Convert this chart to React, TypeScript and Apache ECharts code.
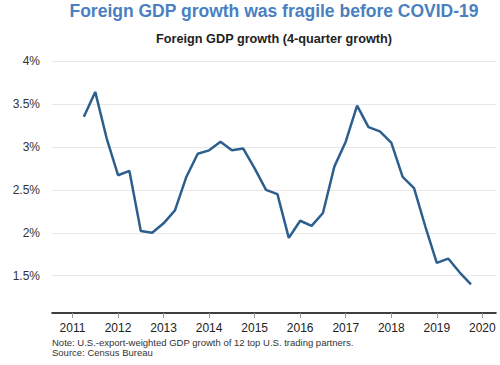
import React, { useEffect, useRef } from "react";
import * as echarts from "echarts";

const quarters = [
  "2011Q2", "2011Q3", "2011Q4",
  "2012Q1", "2012Q2", "2012Q3", "2012Q4",
  "2013Q1", "2013Q2", "2013Q3", "2013Q4",
  "2014Q1", "2014Q2", "2014Q3", "2014Q4",
  "2015Q1", "2015Q2", "2015Q3", "2015Q4",
  "2016Q1", "2016Q2", "2016Q3", "2016Q4",
  "2017Q1", "2017Q2", "2017Q3", "2017Q4",
  "2018Q1", "2018Q2", "2018Q3", "2018Q4",
  "2019Q1", "2019Q2", "2019Q3", "2019Q4",
];

const growth = [
  3.35, 3.64, 3.10,
  2.67, 2.72, 2.02, 2.00,
  2.11, 2.26, 2.65, 2.92,
  2.96, 3.06, 2.96, 2.98,
  2.75, 2.50, 2.45, 1.94,
  2.14, 2.08, 2.23, 2.77,
  3.06, 3.48, 3.23, 3.18,
  3.05, 2.65, 2.52, 2.07,
  1.65, 1.70, 1.54, 1.40,
];

const yTicks = [1.5, 2, 2.5, 3, 3.5, 4];
const xTicks = [2011, 2012, 2013, 2014, 2015, 2016, 2017, 2018, 2019, 2020];

const titleText = "Foreign GDP growth was fragile before COVID-19";
const subtitleText = "Foreign GDP growth (4-quarter growth)";
const noteText = "Note: U.S.-export-weighted GDP growth of 12 top U.S. trading partners.";
const sourceText = "Source: Census Bureau";

function quarterToX(q: string): number {
  const year = parseInt(q.slice(0, 4), 10);
  const qn = parseInt(q.slice(5), 10);
  return year + (qn - 1) / 4;
}

export default function App() {
  const ref = useRef<HTMLDivElement>(null);

  useEffect(() => {
    if (!ref.current) return;
    const chart = echarts.init(ref.current, null, { renderer: "svg" });
    const data = quarters.map((q, i) => [quarterToX(q), growth[i]]);
    const font = "Liberation Sans, Arial, sans-serif";
    chart.setOption({
      animation: false,
      textStyle: { fontFamily: font },
      title: [
        {
          text: titleText,
          left: 274,
          top: 2,
          padding: 0,
          textAlign: "center",
          textStyle: { color: "#4a7fc1", fontSize: 17.5, fontWeight: "bold", fontFamily: font },
        },
        {
          text: subtitleText,
          left: 274,
          top: 32,
          padding: 0,
          textAlign: "center",
          textStyle: { color: "#222", fontSize: 12.7, fontWeight: "bold", fontFamily: font },
        },
        {
          text: noteText + "\n" + sourceText,
          left: 52,
          top: 337,
          padding: 0,
          textStyle: { color: "#333", fontSize: 9.5, fontWeight: "normal", lineHeight: 10.5, fontFamily: font },
        },
      ],
      grid: { left: 52, right: 4, top: 61, bottom: 52 },
      xAxis: {
        type: "value",
        min: 2010.55,
        max: 2020.3,
        axisLine: { show: true, lineStyle: { color: "#000", width: 1.5 } },
        axisTick: { show: true, length: 5, lineStyle: { color: "#999" }, customValues: xTicks },
        axisLabel: {
          customValues: xTicks,
          color: "#222",
          fontSize: 12,
          margin: 9,
          formatter: (v: number) => String(Math.round(v)),
        },
        splitLine: { show: false },
      },
      yAxis: {
        type: "value",
        min: 1.066,
        max: 4,
        axisLine: { show: false },
        axisTick: { show: false, customValues: yTicks },
        axisLabel: {
          customValues: yTicks,
          color: "#333",
          fontSize: 12,
          margin: 12,
          formatter: (v: number) => v + "%",
        },
        splitLine: { show: true, lineStyle: { color: "#e8e8e8", width: 1 } },
      },
      series: [
        {
          type: "line",
          data,
          symbol: "none",
          lineStyle: { color: "#2d5f8e", width: 2.5 },
          itemStyle: { color: "#2d5f8e" },
        },
      ],
    });
    return () => chart.dispose();
  }, []);

  return <div ref={ref} style={{ width: 500, height: 365, position: "absolute", left: 0, top: 0 }} />;
}
